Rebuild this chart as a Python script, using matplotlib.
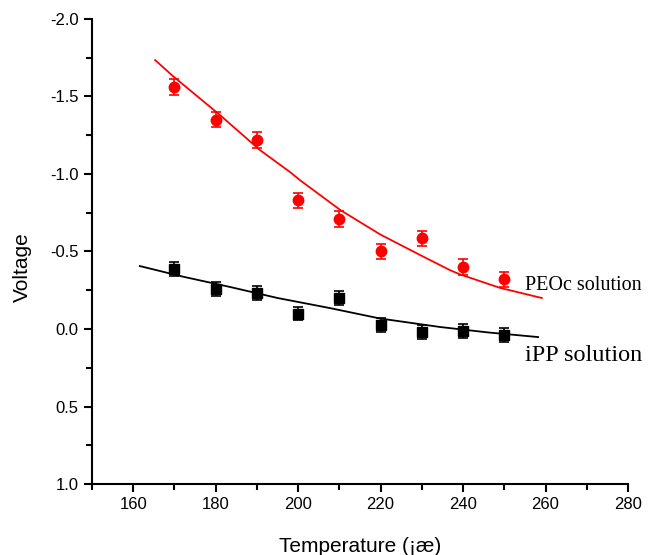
import numpy as np
import matplotlib.pyplot as plt
from matplotlib.ticker import MultipleLocator

# data
temps = [170, 180, 190, 200, 210, 220, 230, 240, 250]
peoc_v = [-1.56, -1.35, -1.22, -0.83, -0.71, -0.50, -0.585, -0.40, -0.32]
ipp_v = [-0.39, -0.26, -0.23, -0.10, -0.20, -0.025, 0.02, 0.01, 0.04]
peoc_err = [0.05] * 9
ipp_err = [0.045] * 9

# fitted curves
peoc_fit_x = [165.3, 169.6, 181.0, 190.7, 198.0, 200.4, 210.2, 219.9, 229.6, 236.8, 239.3, 249.0, 259.1]
peoc_fit_y = [-1.735, -1.632, -1.381, -1.155, -1.013, -0.961, -0.768, -0.610, -0.477, -0.380, -0.352, -0.265, -0.200]
ipp_fit_x = [161.6, 172.0, 183.5, 195.0, 207.7, 219.8, 234.4, 246.0, 258.2]
ipp_fit_y = [-0.406, -0.338, -0.271, -0.200, -0.135, -0.068, -0.013, 0.022, 0.052]

plt.rcParams['font.family'] = ['Liberation Sans', 'DejaVu Sans']

fig = plt.figure(figsize=(6.49, 5.55), dpi=100)
ax = fig.add_axes([0.1418, 0.1279, 0.8258, 0.8379])

ax.plot(peoc_fit_x, peoc_fit_y, color='red', lw=1.3)
ax.plot(ipp_fit_x, ipp_fit_y, color='black', lw=1.3)

ax.errorbar(temps, peoc_v, yerr=peoc_err, fmt='o', color='red', ms=7.5,
            capsize=3.5, elinewidth=1.2, capthick=1.2)
ax.errorbar(temps, ipp_v, yerr=ipp_err, fmt='s', color='black', ms=6.5,
            capsize=3.5, elinewidth=1.2, capthick=1.2)

ax.text(255, -0.28, 'PEOc solution', family=['Liberation Serif'], fontsize=14.5,
        va='center', ha='left')
ax.text(255, 0.17, 'iPP solution', family=['Liberation Serif'], fontsize=17.5,
        va='center', ha='left')

ax.set_xlim(150, 280)
ax.set_ylim(1.0, -2.0)
ax.xaxis.set_major_locator(MultipleLocator(20))
ax.xaxis.set_minor_locator(MultipleLocator(10))
ax.yaxis.set_major_locator(MultipleLocator(0.5))
ax.yaxis.set_minor_locator(MultipleLocator(0.25))
ax.yaxis.set_major_formatter(plt.FormatStrFormatter('%.1f'))

for s in ['top', 'right']:
    ax.spines[s].set_visible(False)
for s in ['left', 'bottom']:
    ax.spines[s].set_linewidth(1.5)
ax.tick_params(which='major', direction='out', length=6, width=1.5, labelsize=12)
ax.tick_params(which='minor', direction='out', length=4, width=1.5)

ax.set_xlabel('Temperature (¡æ)', fontsize=15)
ax.set_ylabel('Voltage', fontsize=15)
ax.xaxis.set_label_coords(0.5, -0.115)
ax.yaxis.set_label_coords(-0.112, 0.467)

fig.savefig('out.png', dpi=100)
